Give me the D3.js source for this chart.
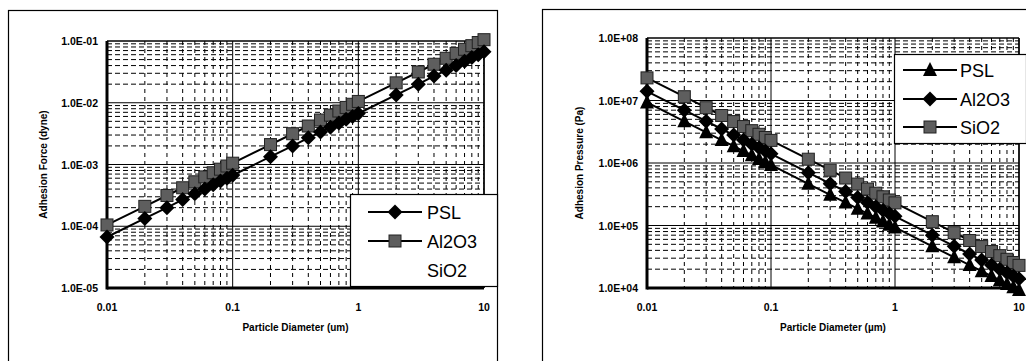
<!DOCTYPE html>
<html>
<head>
<meta charset="utf-8">
<script src="https://cdn.jsdelivr.net/npm/d3@7"></script>
<style>
  body { margin: 0; background: #fff; }
  svg { display: block; font-family: "Liberation Sans", Arial, sans-serif; }
</style>
</head>
<body>
<svg id="chart" width="1026" height="361"></svg>
<script>
// particle diameters (um) shared by both panels
const diameters = [0.01, 0.02, 0.03, 0.04, 0.05, 0.06, 0.07, 0.08, 0.09,
  0.1, 0.2, 0.3, 0.4, 0.5, 0.6, 0.7, 0.8, 0.9,
  1, 2, 3, 4, 5, 6, 7, 8, 9, 10];

// left panel: adhesion force (dyne)
const forcePSL = [6.7e-5, 1.34e-4, 2.0e-4, 2.7e-4, 3.35e-4, 4.0e-4, 4.7e-4, 5.4e-4, 6.0e-4,
  6.7e-4, 1.34e-3, 2.0e-3, 2.7e-3, 3.35e-3, 4.0e-3, 4.7e-3, 5.4e-3, 6.0e-3,
  6.7e-3, 1.34e-2, 2.0e-2, 2.7e-2, 3.35e-2, 4.0e-2, 4.7e-2, 5.4e-2, 6.0e-2, 6.7e-2];
const forceAl2O3 = [1.05e-4, 2.1e-4, 3.15e-4, 4.2e-4, 5.25e-4, 6.3e-4, 7.35e-4, 8.4e-4, 9.45e-4,
  1.05e-3, 2.1e-3, 3.15e-3, 4.2e-3, 5.25e-3, 6.3e-3, 7.35e-3, 8.4e-3, 9.45e-3,
  1.05e-2, 2.1e-2, 3.15e-2, 4.2e-2, 5.25e-2, 6.3e-2, 7.35e-2, 8.4e-2, 9.45e-2, 1.05e-1];

// right panel: adhesion pressure (Pa)
const pressPSL = [9.3e6, 4.65e6, 3.1e6, 2.33e6, 1.86e6, 1.55e6, 1.33e6, 1.16e6, 1.03e6,
  9.3e5, 4.65e5, 3.1e5, 2.33e5, 1.86e5, 1.55e5, 1.33e5, 1.16e5, 1.03e5,
  9.3e4, 4.65e4, 3.1e4, 2.33e4, 1.86e4, 1.55e4, 1.33e4, 1.16e4, 1.03e4, 9.3e3];
const pressAl2O3 = [1.4e7, 7.0e6, 4.67e6, 3.5e6, 2.8e6, 2.33e6, 2.0e6, 1.75e6, 1.56e6,
  1.4e6, 7.0e5, 4.67e5, 3.5e5, 2.8e5, 2.33e5, 2.0e5, 1.75e5, 1.56e5,
  1.4e5, 7.0e4, 4.67e4, 3.5e4, 2.8e4, 2.33e4, 2.0e4, 1.75e4, 1.56e4, 1.4e4];
const pressSiO2 = [2.3e7, 1.15e7, 7.67e6, 5.75e6, 4.6e6, 3.83e6, 3.29e6, 2.88e6, 2.56e6,
  2.3e6, 1.15e6, 7.67e5, 5.75e5, 4.6e5, 3.83e5, 3.29e5, 2.88e5, 2.56e5,
  2.3e5, 1.15e5, 7.67e4, 5.75e4, 4.6e4, 3.83e4, 3.29e4, 2.88e4, 2.56e4, 2.3e4];

// tick labels
const xTickLabels = ["0.01", "0.1", "1", "10"];
const forceTickLabels = ["1.0E-05", "1.0E-04", "1.0E-03", "1.0E-02", "1.0E-01"];
const pressTickLabels = ["1.0E+04", "1.0E+05", "1.0E+06", "1.0E+07", "1.0E+08"];

const svg = d3.select("#chart");

function marker(g, shape, x, y) {
  if (shape === "diamond") {
    g.append("path")
      .attr("d", "M0,-7.5L7.5,0L0,7.5L-7.5,0Z")
      .attr("transform", "translate(" + x + "," + y + ")")
      .attr("fill", "#000");
  } else if (shape === "square") {
    g.append("rect")
      .attr("x", x - 6).attr("y", y - 6)
      .attr("width", 12).attr("height", 12)
      .attr("fill", "#5e5e5e").attr("stroke", "#222").attr("stroke-width", 1);
  } else if (shape === "triangle") {
    g.append("path")
      .attr("d", "M0,-8L7,6L-7,6Z")
      .attr("transform", "translate(" + x + "," + y + ")")
      .attr("fill", "#000");
  }
}

function drawPanel(p) {
  const g = svg.append("g");

  // outer frame
  g.append("rect")
    .attr("x", p.frame[0] + 0.5).attr("y", p.frame[1] + 0.5)
    .attr("width", p.frame[2]).attr("height", p.frame[3])
    .attr("fill", "none").attr("stroke", "#000").attr("stroke-width", 1.2);

  const x = d3.scaleLog().domain([0.01, 10]).range([p.left, p.right]);
  const y = d3.scaleLog().domain(p.yDomain).range([p.bottom, p.top]);

  // grid: minor dashed, major solid
  const grid = g.append("g");
  const xMinor = [], yMinor = [];
  for (let e = -2; e < 1; e++) for (let k = 2; k < 10; k++) xMinor.push(k * Math.pow(10, e));
  const ye0 = Math.round(Math.log10(p.yDomain[0])), ye1 = Math.round(Math.log10(p.yDomain[1]));
  for (let e = ye0; e < ye1; e++) for (let k = 2; k < 10; k++) yMinor.push(k * Math.pow(10, e));
  const xMajor = [0.01, 0.1, 1, 10];
  const yMajor = d3.range(ye0, ye1 + 1).map(e => Math.pow(10, e));

  grid.selectAll(".xm").data(xMinor).join("line")
    .attr("x1", d => x(d)).attr("x2", d => x(d))
    .attr("y1", p.top).attr("y2", p.bottom)
    .attr("stroke", "#000").attr("stroke-width", 1).attr("stroke-dasharray", "4,4");
  grid.selectAll(".ym").data(yMinor).join("line")
    .attr("x1", p.left).attr("x2", p.right)
    .attr("y1", d => y(d)).attr("y2", d => y(d))
    .attr("stroke", "#000").attr("stroke-width", 1).attr("stroke-dasharray", "5,3");
  grid.selectAll(".xM").data(xMajor).join("line")
    .attr("x1", d => x(d)).attr("x2", d => x(d))
    .attr("y1", p.top).attr("y2", p.bottom)
    .attr("stroke", "#000").attr("stroke-width", 1);
  grid.selectAll(".yM").data(yMajor).join("line")
    .attr("x1", p.left).attr("x2", p.right)
    .attr("y1", d => y(d)).attr("y2", d => y(d))
    .attr("stroke", "#000").attr("stroke-width", 1);

  // axes (thick left & bottom)
  g.append("line").attr("x1", p.left).attr("x2", p.left).attr("y1", p.top).attr("y2", p.bottom + 1.5)
    .attr("stroke", "#000").attr("stroke-width", 3);
  g.append("line").attr("x1", p.left).attr("x2", p.right).attr("y1", p.bottom).attr("y2", p.bottom)
    .attr("stroke", "#000").attr("stroke-width", 3);
  g.append("line").attr("x1", p.right).attr("x2", p.right).attr("y1", p.top).attr("y2", p.bottom)
    .attr("stroke", "#000").attr("stroke-width", 1.5);
  g.append("line").attr("x1", p.left).attr("x2", p.right).attr("y1", p.top).attr("y2", p.top)
    .attr("stroke", "#000").attr("stroke-width", 1);

  // tick labels
  g.selectAll(".yl").data(yMajor).join("text")
    .attr("x", p.left - 9).attr("y", d => y(d) + 4)
    .attr("text-anchor", "end").attr("font-size", 10.5).attr("font-weight", "bold")
    .text((d, i) => p.yLabels[i]);
  g.selectAll(".xl").data(xMajor).join("text")
    .attr("x", d => x(d)).attr("y", p.bottom + 23)
    .attr("text-anchor", "middle").attr("font-size", 10.5).attr("font-weight", "bold")
    .text((d, i) => xTickLabels[i]);

  // axis titles
  g.append("text")
    .attr("transform", "translate(" + p.yTitleX + "," + ((p.top + p.bottom) / 2) + ") rotate(-90)")
    .attr("text-anchor", "middle").attr("font-size", 10).attr("font-weight", "bold")
    .text(p.yTitle);
  g.append("text")
    .attr("x", (p.left + p.right) / 2).attr("y", p.bottom + 43)
    .attr("text-anchor", "middle").attr("font-size", 10).attr("font-weight", "bold")
    .text(p.xTitle);

  // series
  const line = d3.line().x(d => x(d[0])).y(d => y(d[1]));
  p.series.forEach(s => {
    const pts = diameters.map((d, i) => [d, s.values[i]]);
    g.append("path").attr("d", line(pts))
      .attr("fill", "none").attr("stroke", "#000").attr("stroke-width", 2);
    pts.forEach(pt => marker(g, s.shape, x(pt[0]), y(pt[1])));
  });

  // legend
  const L = p.legend;
  g.append("rect").attr("x", L.x + 0.5).attr("y", L.y + 0.5).attr("width", L.w).attr("height", L.h)
    .attr("fill", "#fff").attr("stroke", "#000").attr("stroke-width", 1.2);
  L.items.forEach((it, i) => {
    const cy = L.rows[i];
    if (it.shape) {
      g.append("line").attr("x1", L.lineX[0]).attr("x2", L.lineX[1]).attr("y1", cy).attr("y2", cy)
        .attr("stroke", "#000").attr("stroke-width", 2);
      marker(g, it.shape, (L.lineX[0] + L.lineX[1]) / 2, cy);
    }
    g.append("text").attr("x", L.textX).attr("y", cy + 6.5)
      .attr("font-size", 18).text(it.name);
  });
}

drawPanel({
  frame: [8, 10, 489, 360],
  left: 107, right: 484, top: 41, bottom: 288,
  yDomain: [1e-5, 1e-1],
  yLabels: forceTickLabels,
  yTitle: "Adhesion Force (dyne)", yTitleX: 47,
  xTitle: "Particle Diameter (um)",
  series: [
    { values: forceAl2O3, shape: "square" },
    { values: forcePSL, shape: "diamond" }
  ],
  legend: {
    x: 350, y: 194, w: 147, h: 92, rows: [212, 241, 270],
    lineX: [368, 422], textX: 427,
    items: [{ name: "PSL", shape: "diamond" }, { name: "Al2O3", shape: "square" }, { name: "SiO2", shape: null }]
  }
});

drawPanel({
  frame: [542, 9, 490, 360],
  left: 647, right: 1019, top: 38, bottom: 288,
  yDomain: [1e4, 1e8],
  yLabels: pressTickLabels,
  yTitle: "Adhesion Pressure (Pa)", yTitleX: 583,
  xTitle: "Particle Diameter (\u00b5m)",
  series: [
    { values: pressSiO2, shape: "square" },
    { values: pressAl2O3, shape: "diamond" },
    { values: pressPSL, shape: "triangle" }
  ],
  legend: {
    x: 894, y: 54, w: 132, h: 89, rows: [70, 99, 127],
    lineX: [903, 957], textX: 960,
    items: [{ name: "PSL", shape: "triangle" }, { name: "Al2O3", shape: "diamond" }, { name: "SiO2", shape: "square" }]
  }
});
</script>
</body>
</html>
